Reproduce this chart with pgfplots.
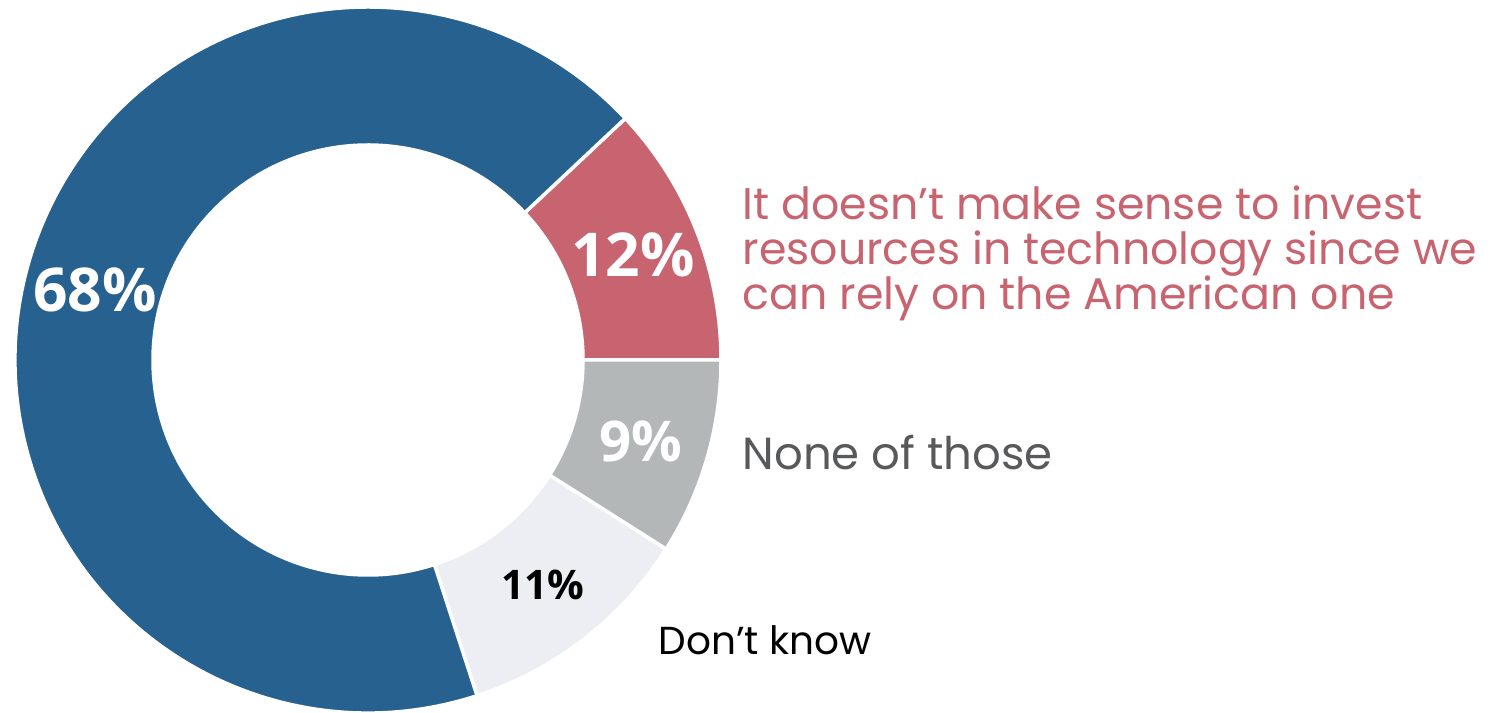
\documentclass[border=0pt]{standalone}
\usepackage{pgfplots}
\pgfplotsset{compat=1.18}
\usetikzlibrary{calc}
\usepackage{fontspec}
\setmainfont{Poppins}
\newfontfamily\numfont{Open Sans}
\definecolor{cBlue}{HTML}{276190}
\definecolor{cRed}{HTML}{C8646F}
\definecolor{cGray}{HTML}{B4B7B8}
\definecolor{cLight}{HTML}{EDEEF4}
\definecolor{cText}{HTML}{58595B}
% segment from cumulative percent #1 to #2 (clockwise, starting at 43.2 deg)
\newcommand\seg[3]{%
  \fill[#3,draw=white,line width=1pt]
    ($(axis cs:368,353)+({43.2-3.6*#1}:3.53cm)$)
    arc[start angle={43.2-3.6*#1}, end angle={43.2-3.6*#2}, radius=3.53cm]
    -- ($(axis cs:368,353)+({43.2-3.6*#2}:2.15cm)$)
    arc[start angle={43.2-3.6*#2}, end angle={43.2-3.6*#1}, radius=2.15cm]
    -- cycle;}
\begin{document}
\begin{tikzpicture}
\begin{axis}[
  width=15.06cm, height=7.13cm, scale only axis,
  xmin=0, xmax=1506, ymin=0, ymax=713,
  hide axis, clip=false]
% values: 12 (red), 9 (gray), 11 (light), 68 (blue)
\seg{0}{12}{cRed}
\seg{12}{21}{cGray}
\seg{21}{32}{cLight}
\seg{32}{100}{cBlue}
\node[text=white,font=\numfont\bfseries\fontsize{17.2}{20}\selectfont] at (axis cs:95,423) {68\%};
\node[text=white,font=\numfont\bfseries\fontsize{17.2}{20}\selectfont] at (axis cs:633,458) {12\%};
\node[text=white,font=\numfont\bfseries\fontsize{16}{18}\selectfont] at (axis cs:641,272) {9\%};
\node[text=black,font=\numfont\bfseries\fontsize{11.6}{14}\selectfont] at (axis cs:543,128) {11\%};
\node[text=cRed,anchor=base west,inner sep=0pt,font=\fontsize{12.6}{15}\selectfont] at (axis cs:742,493) {It doesn’t make sense to invest};
\node[text=cRed,anchor=base west,inner sep=0pt,font=\fontsize{12.6}{15}\selectfont] at (axis cs:742,448) {resources in technology since we};
\node[text=cRed,anchor=base west,inner sep=0pt,font=\fontsize{12.6}{15}\selectfont] at (axis cs:742,403) {can rely on the American one};
\node[text=cText,anchor=base west,inner sep=0pt,font=\fontsize{12.8}{15}\selectfont] at (axis cs:742,243) {None of those};
\node[text=black,anchor=base west,inner sep=0pt,font=\fontsize{11.1}{13}\selectfont] at (axis cs:658,58) {Don’t know};
\end{axis}
\pgfresetboundingbox
\path[use as bounding box] (current axis.south west) rectangle (current axis.north east);
\end{tikzpicture}
\end{document}
